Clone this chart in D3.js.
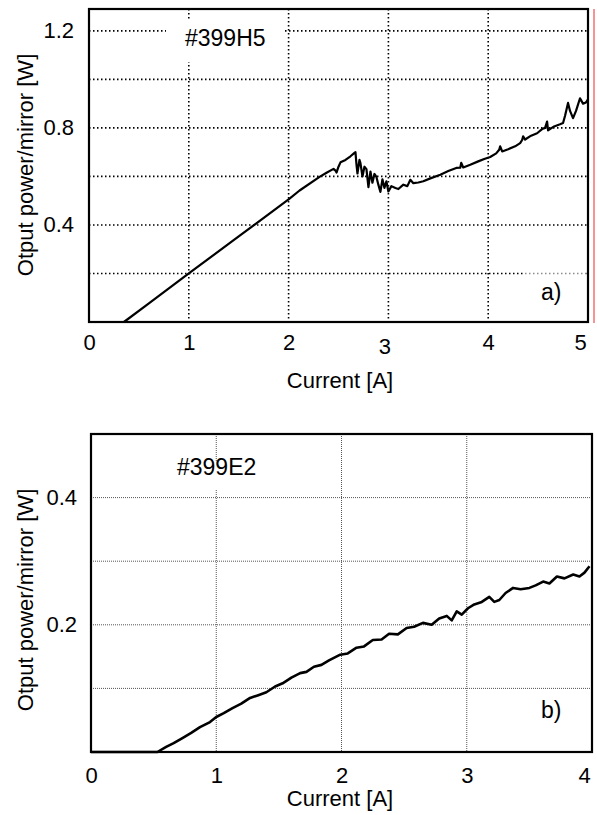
<!DOCTYPE html>
<html>
<head>
<meta charset="utf-8">
<script src="https://cdn.jsdelivr.net/npm/d3@7"></script>
<style>
  body { margin: 0; background: #fff; }
  svg { display: block; font-family: "Liberation Sans", Arial, sans-serif; }
</style>
</head>
<body>
<svg id="chart" width="597" height="815"></svg>
<script>
// panel a) #399H5 : [current A, power W]
const seriesA = [
  [0, 0], [0.35, 0], [0.6, 0.077], [1.0, 0.2], [1.5, 0.353], [2.0, 0.505],
  [2.11, 0.542], [2.31, 0.598], [2.38, 0.615], [2.45, 0.631], [2.47, 0.624],
  [2.48, 0.616], [2.5, 0.64], [2.52, 0.658], [2.57, 0.668], [2.62, 0.683],
  [2.66, 0.697], [2.67, 0.7], [2.68, 0.65], [2.69, 0.612], [2.71, 0.668],
  [2.72, 0.655], [2.74, 0.6], [2.76, 0.64], [2.78, 0.63], [2.8, 0.556],
  [2.82, 0.62], [2.84, 0.574], [2.86, 0.61], [2.88, 0.598], [2.9, 0.565],
  [2.92, 0.536], [2.94, 0.588], [2.96, 0.553], [2.98, 0.58], [3.0, 0.538],
  [3.03, 0.56], [3.07, 0.552], [3.1, 0.548], [3.15, 0.566], [3.19, 0.56],
  [3.22, 0.586], [3.25, 0.572], [3.3, 0.575], [3.35, 0.58], [3.42, 0.592],
  [3.52, 0.607], [3.6, 0.622], [3.68, 0.635], [3.72, 0.636], [3.73, 0.656],
  [3.75, 0.637], [3.82, 0.648], [3.9, 0.662], [3.96, 0.672], [4.02, 0.68],
  [4.08, 0.695], [4.11, 0.71], [4.12, 0.724], [4.14, 0.703], [4.2, 0.712],
  [4.27, 0.724], [4.32, 0.737], [4.34, 0.75], [4.35, 0.765], [4.37, 0.752],
  [4.43, 0.768], [4.49, 0.778], [4.54, 0.795], [4.57, 0.8], [4.59, 0.826],
  [4.6, 0.79], [4.66, 0.806], [4.72, 0.815], [4.75, 0.82], [4.77, 0.85],
  [4.8, 0.903], [4.82, 0.87], [4.85, 0.84], [4.88, 0.87], [4.92, 0.922],
  [4.95, 0.9], [4.98, 0.905], [5.0, 0.918]
];

// panel b) #399E2
const seriesB = [
  [0, 0], [0.53, 0], [0.6, 0.008], [0.66, 0.014], [0.73, 0.022], [0.8, 0.03],
  [0.87, 0.039], [0.95, 0.047], [1.0, 0.055], [1.06, 0.061], [1.13, 0.069],
  [1.2, 0.076], [1.27, 0.085], [1.33, 0.089], [1.4, 0.094], [1.47, 0.103],
  [1.53, 0.108], [1.6, 0.117], [1.67, 0.124], [1.72, 0.126], [1.78, 0.134],
  [1.84, 0.137], [1.9, 0.144], [1.99, 0.153], [2.05, 0.155], [2.12, 0.164],
  [2.18, 0.166], [2.25, 0.176], [2.32, 0.177], [2.38, 0.186], [2.45, 0.185],
  [2.52, 0.195], [2.58, 0.197], [2.65, 0.203], [2.72, 0.2], [2.78, 0.21],
  [2.84, 0.214], [2.88, 0.207], [2.92, 0.221], [2.96, 0.216], [3.01, 0.226],
  [3.06, 0.232], [3.12, 0.236], [3.18, 0.244], [3.22, 0.236], [3.26, 0.239],
  [3.31, 0.25], [3.37, 0.258], [3.43, 0.256], [3.5, 0.258], [3.55, 0.262],
  [3.61, 0.268], [3.66, 0.265], [3.72, 0.276], [3.78, 0.273], [3.85, 0.279],
  [3.9, 0.276], [3.94, 0.282], [3.98, 0.292]
];

const xTicksA = [0, 1, 2, 3, 4, 5];
const yGridA = [0.2, 0.4, 0.6, 0.8, 1.0, 1.2];
const yLabelsA = [0.4, 0.8, 1.2];

const xTicksB = [0, 1, 2, 3, 4];
const yGridB = [0.1, 0.2, 0.3, 0.4];
const yLabelsB = [0.2, 0.4];

const svg = d3.select("#chart");

function drawPanel(p) {
  const x = d3.scaleLinear().domain(p.xDomain).range([p.left, p.right]);
  const y = d3.scaleLinear().domain(p.yDomain).range([p.bottom, p.top]);
  const g = svg.append("g");

  // grid
  g.selectAll(".vgrid")
    .data(p.xTicks.filter((d) => d > p.xDomain[0] && d < p.xDomain[1]))
    .enter()
    .append("line")
    .attr("x1", (d) => x(d))
    .attr("x2", (d) => x(d))
    .attr("y1", p.top)
    .attr("y2", p.bottom)
    .attr("stroke", p.gridColor)
    .attr("stroke-width", p.gridWidth)
    .attr("stroke-dasharray", p.gridDash);

  g.selectAll(".hgrid")
    .data(p.yGrid)
    .enter()
    .append("line")
    .attr("x1", p.left)
    .attr("x2", p.right)
    .attr("y1", (d) => y(d))
    .attr("y2", (d) => y(d))
    .attr("stroke", p.gridColor)
    .attr("stroke-width", p.gridWidth)
    .attr("stroke-dasharray", p.gridDash);

  // label boxes hide part of the grid
  g.append("rect")
    .attr("x", p.tagBox[0]).attr("y", p.tagBox[1])
    .attr("width", p.tagBox[2]).attr("height", p.tagBox[3])
    .attr("fill", "#fff");

  g.append("rect")
    .attr("x", p.letterBox[0]).attr("y", p.letterBox[1])
    .attr("width", p.letterBox[2]).attr("height", p.letterBox[3])
    .attr("fill", "#fff")
    .attr("opacity", 0.55);

  g.append("text")
    .attr("x", p.tagPos[0])
    .attr("y", p.tagPos[1])
    .attr("font-size", 23)
    .text(p.tag);

  g.append("text")
    .attr("x", p.letterPos[0])
    .attr("y", p.letterPos[1])
    .attr("font-size", 23)
    .text(p.letter);

  // curve
  const line = d3.line().x((d) => x(d[0])).y((d) => y(d[1]));
  g.append("path")
    .datum(p.data)
    .attr("fill", "none")
    .attr("stroke", "#000")
    .attr("stroke-width", p.lineWidth)
    .attr("stroke-linejoin", "round")
    .attr("d", line);

  // frame
  g.append("rect")
    .attr("x", p.left).attr("y", p.top)
    .attr("width", p.right - p.left).attr("height", p.bottom - p.top)
    .attr("fill", "none")
    .attr("stroke", "#000")
    .attr("stroke-width", 2.2);

  // axes (labels only)
  const xa = g.append("g")
    .attr("transform", `translate(0,${p.bottom})`)
    .call(d3.axisBottom(x).tickValues(p.xTicks).tickSize(0).tickPadding(p.xPad).tickFormat(d3.format("d")));
  xa.select(".domain").remove();
  xa.selectAll("text").attr("font-size", 22).attr("fill", "#000").attr("font-family", null);

  const ya = g.append("g")
    .attr("transform", `translate(${p.left},0)`)
    .call(d3.axisLeft(y).tickValues(p.yLabels).tickSize(0).tickPadding(p.yPad).tickFormat(d3.format(".1f")));
  ya.select(".domain").remove();
  ya.selectAll("text").attr("font-size", 22).attr("fill", "#000").attr("font-family", null);

  g.append("text")
    .attr("x", 340)
    .attr("y", p.xTitleY)
    .attr("text-anchor", "middle")
    .attr("font-size", 22)
    .text("Current [A]");

  g.append("text")
    .attr("transform", `translate(33,${p.yTitleY}) rotate(-90)`)
    .attr("text-anchor", "middle")
    .attr("font-size", 22)
    .text("Otput power/mirror [W]");

  return { x, y, g, xa };
}

const a = drawPanel({
  data: seriesA,
  xDomain: [0, 5], yDomain: [0, 1.29],
  left: 89, right: 588, top: 9, bottom: 322,
  xTicks: xTicksA, yGrid: yGridA, yLabels: yLabelsA,
  gridColor: "#000", gridWidth: 1.6, gridDash: "1.5,2.5",
  lineWidth: 2.2,
  tag: "#399H5", tagPos: [185, 46], tagBox: [166, 20, 118, 42],
  letter: "a)", letterPos: [541, 300], letterBox: [525, 266, 61, 52],
  xPad: 12, yPad: 15, xTitleY: 388, yTitleY: 165
});

// the scanned labels "3" and "5" sit a little off their ticks
a.xa.selectAll(".tick text")
  .attr("dx", (d) => (d === 5 ? -8 : d === 3 ? -4 : 0))
  .attr("dy", (d) => (d === 3 ? "0.9em" : "0.71em"));

// thin red edge to the right of panel a
a.g.append("line")
  .attr("x1", 594).attr("x2", 594)
  .attr("y1", 9).attr("y2", 323)
  .attr("stroke", "#f07070")
  .attr("stroke-width", 1.5);

const b = drawPanel({
  data: seriesB,
  xDomain: [0, 4], yDomain: [0, 0.5],
  left: 91, right: 592, top: 434, bottom: 752,
  xTicks: xTicksB, yGrid: yGridB, yLabels: yLabelsB,
  gridColor: "#555", gridWidth: 1, gridDash: "1,1",
  lineWidth: 2.6,
  tag: "#399E2", tagPos: [177, 475], tagBox: [170, 462, 100, 28],
  letter: "b)", letterPos: [541, 718], letterBox: [0, 0, 0, 0],
  xPad: 15, yPad: 14, xTitleY: 806, yTitleY: 600
});

b.xa.selectAll(".tick text")
  .attr("dx", (d) => (d === 4 ? -8 : 0));
</script>
</body>
</html>
